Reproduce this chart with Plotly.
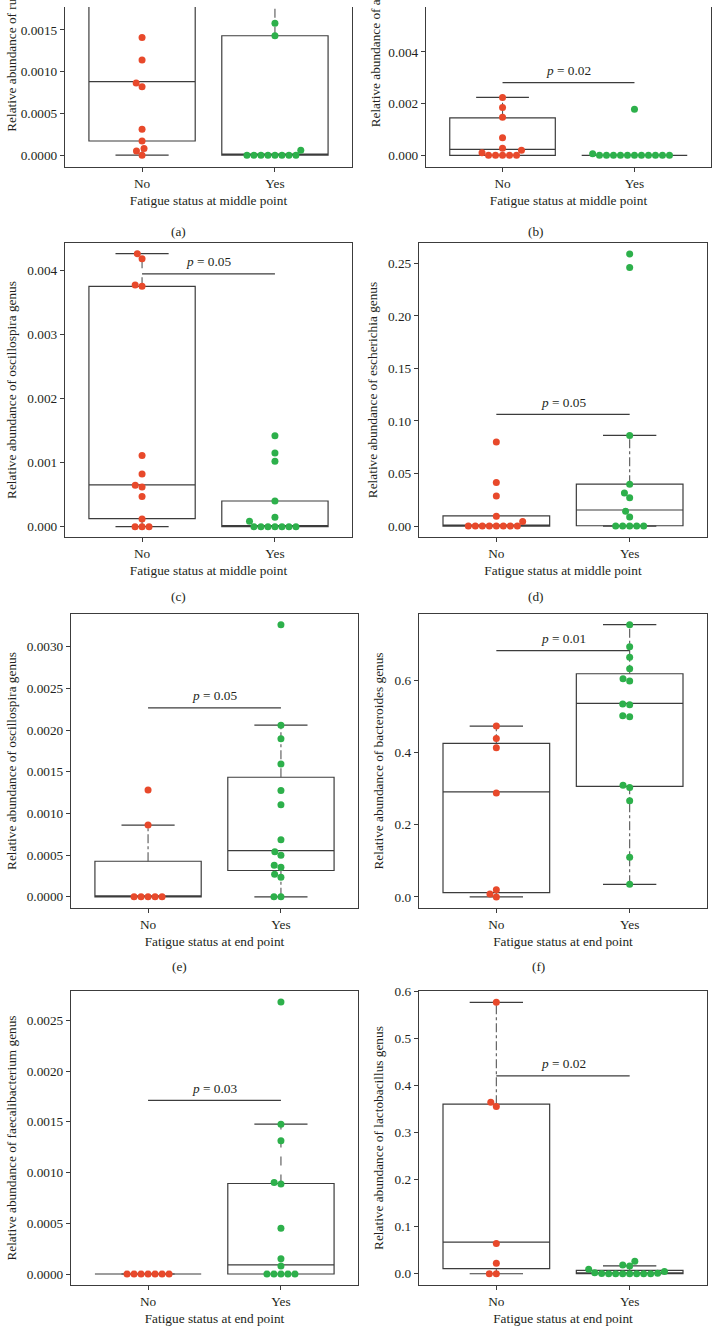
import numpy as np
import plotly.graph_objects as go

W, H = 714, 1338
FONT = "Liberation Serif"
RED = "#E8492B"
GREEN = "#2DB04B"
LINE = "#3C3C3C"
WHISK = "#555555"
TXT = "#231F20"
FS = 13.3

# ------------------------------------------------------------------ data
groups = ["No", "Yes"]
x_mid = "Fatigue status at middle point"
x_end = "Fatigue status at end point"

# box stats: [lower whisker, q1, median, q3, upper whisker]
# (a) ruminococcus, middle point (upper part lies above the cropped figure)
a_no = [0.00141, 0.00114, 0.000865, 0.00082, 0.00031, 0.00017, 0.00008, 0.00005, 0.0,
        0.0021, 0.0026, 0.0032, 0.0045]
a_yes = [0.00158, 0.00143, 0.00006, 0.0, 0.0, 0.0, 0.0, 0.0, 0.0, 0.0, 0.0, 0.0021, 0.0030]
a_no_box = [0.0, 0.00017, 0.00088, 0.0021, 0.0045]
a_yes_box = [0.0, 0.0, 0.0, 0.00143, 0.0030]

# (b) anaerostipes, middle point
b_no = [0.00224, 0.00185, 0.00147, 0.00068, 0.00027, 0.00019, 0.0001, 0.0, 0.0, 0.0, 0.0, 0.0]
b_yes = [0.00178, 0.00006, 0.0, 0.0, 0.0, 0.0, 0.0, 0.0, 0.0, 0.0, 0.0, 0.0, 0.0]
b_no_box = [0.0, 0.0, 0.00023, 0.00145, 0.00224]
b_yes_box = [0.0, 0.0, 0.0, 0.0, 0.0]
b_p = [0.00281, "0.02"]

# (c) oscillospira, middle point
c_no = [0.00426, 0.00418, 0.00377, 0.00375, 0.00111, 0.00082, 0.000645, 0.00062, 0.00047,
        0.00012, 0.0, 0.0, 0.0]
c_yes = [0.00142, 0.00115, 0.00102, 0.00040, 0.000146, 0.000084, 0.0, 0.0, 0.0, 0.0, 0.0, 0.0, 0.0]
c_no_box = [0.0, 0.000125, 0.000653, 0.00375, 0.00426]
c_yes_box = [0.0, 0.0, 0.0, 0.0004, 0.0004]
c_p = [0.003946, "0.05"]

# (d) escherichia, middle point
d_no = [0.080, 0.0415, 0.0285, 0.0093, 0.0043, 0.0, 0.0, 0.0, 0.0, 0.0, 0.0, 0.0, 0.0]
d_yes = [0.259, 0.246, 0.0863, 0.0399, 0.0314, 0.027, 0.014, 0.0086, 0.0, 0.0, 0.0, 0.0, 0.0]
d_no_box = [0.0, 0.0, 0.0, 0.0097, 0.0097]
d_yes_box = [0.0, 0.0003, 0.0153, 0.0399, 0.0863]
d_p = [0.1062, "0.05"]

# (e) oscillospira, end point
e_no = [0.00128, 0.00086, 0.0, 0.0, 0.0, 0.0, 0.0]
e_yes = [0.003264, 0.002058, 0.001895, 0.001593, 0.001275, 0.001104, 0.000686, 0.00054,
         0.000499, 0.00038, 0.000356, 0.000272, 0.000236, 0.0, 0.0]
e_no_box = [0.0, 0.0, 0.0, 0.000427, 0.00086]
e_yes_box = [0.0, 0.000316, 0.000555, 0.001434, 0.002058]
e_p = [0.002266, "0.05"]

# (f) bacteroides, end point
f_no = [0.473, 0.439, 0.413, 0.288, 0.020, 0.008, 0.0]
f_yes = [0.754, 0.693, 0.664, 0.632, 0.604, 0.598, 0.534, 0.532, 0.5015, 0.4987, 0.309,
         0.303, 0.266, 0.110, 0.035]
f_no_box = [0.0, 0.012, 0.291, 0.4254, 0.473]
f_yes_box = [0.035, 0.306, 0.536, 0.618, 0.754]
f_p = [0.682, "0.01"]

# (g) faecalibacterium, end point
g_no = [0.0, 0.0, 0.0, 0.0, 0.0, 0.0, 0.0]
g_yes = [0.00268, 0.001477, 0.001314, 0.000902, 0.000886, 0.000451, 0.00015, 0.00008,
         0.0, 0.0, 0.0, 0.0, 0.0]
g_no_box = [0.0, 0.0, 0.0, 0.0, 0.0]
g_yes_box = [0.0, 0.0, 0.00009, 0.000892, 0.001477]
g_p = [0.001712, "0.03"]

# (h) lactobacillus, end point
h_no = [0.576, 0.364, 0.355, 0.064, 0.022, 0.0, 0.0]
h_yes = [0.0265, 0.0185, 0.0165, 0.0095, 0.0045, 0.002, 0.001, 0.0005, 0.0, 0.0, 0.0,
         0.0, 0.0, 0.0, 0.0]
h_no_box = [0.0, 0.011, 0.067, 0.36, 0.576]
h_yes_box = [0.0, 0.0, 0.002, 0.007, 0.0165]
h_p = [0.42, "0.02"]

genus = ["ruminococcus", "anaerostipes", "oscillospira", "escherichia",
         "oscillospira", "bacteroides", "faecalibacterium", "lactobacillus"]
labels = ["(a)", "(b)", "(c)", "(d)", "(e)", "(f)", "(g)", "(h)"]

# ------------------------------------------------------------------ layout geometry (px)
# plot-area boxes: left, right, top, bottom
geom = [
    (65, 352, 0, 161), (426, 711, 0, 161),
    (65, 352, 237, 533), (419, 707, 237, 533),
    (71, 358, 610, 906), (419, 707, 610, 906),
    (71, 358, 989, 1285), (419, 707, 989, 1285),
]
yranges = [(-0.000143, 0.001774), (-0.00046, 0.00574), (-0.000165, 0.00443),
           (-0.0106, 0.2696), (-0.000137, 0.003394), (-0.0314, 0.784),
           (-0.000111, 0.002791), (-0.0245, 0.6005)]
ydticks = [0.0005, 0.002, 0.001, 0.05, 0.0005, 0.2, 0.0005, 0.1]
yformats = [".4f", ".3f", ".3f", ".2f", ".4f", ".1f", ".4f", ".1f"]
XR = (-0.58, 1.58)
whisk_dash = [("dash", "dash"), ("dashdot", "dashdot"), ("dash", "dash"), ("dashdot", "dashdot"),
              ("dashdot", "dashdot"), ("dashdot", "dashdot"), ("dash", "dash"), ("dashdot", "dashdot")]
label_pos = [(178, 226), (536, 226), (178, 593), (536, 593), (179, 965), (538, 965)]

data_no = [a_no, b_no, c_no, d_no, e_no, f_no, g_no, h_no]
data_yes = [a_yes, b_yes, c_yes, d_yes, e_yes, f_yes, g_yes, h_yes]
box_no = [a_no_box, b_no_box, c_no_box, d_no_box, e_no_box, f_no_box, g_no_box, h_no_box]
box_yes = [a_yes_box, b_yes_box, c_yes_box, d_yes_box, e_yes_box, f_yes_box, g_yes_box, h_yes_box]
pvals = [None, b_p, c_p, d_p, e_p, f_p, g_p, h_p]
xtitles = [x_mid, x_mid, x_mid, x_mid, x_end, x_end, x_end, x_end]

DOT = 7.0


def swarm(vals, px_y, px_x, d=DOT):
    """beeswarm offsets (axis units) for one group"""
    order = sorted(range(len(vals)), key=lambda i: vals[i])
    placed = []
    offs = [0.0] * len(vals)
    for i in order:
        y = vals[i] * px_y
        near = [(xp, yp) for xp, yp in placed if abs(yp - y) < d]
        cands = [0.0]
        for xp, yp in near:
            dx = np.sqrt(max(d * d - (yp - y) ** 2, 0))
            cands += [xp + dx, xp - dx]
        cands.sort(key=lambda c: (abs(c), c))
        xsel = cands[-1]
        for c in cands:
            if all((c - xp) ** 2 + (yp - y) ** 2 >= d * d - 1e-6 for xp, yp in near):
                xsel = c
                break
        placed.append((xsel, y))
        offs[i] = xsel / px_x
    return offs


fig = go.Figure()
annotations = []

for k in range(8):
    n = k + 1
    xa = "x" if n == 1 else f"x{n}"
    ya = "y" if n == 1 else f"y{n}"
    left, right, top, bottom = geom[k]
    ymin, ymax = yranges[k]
    px_y = (bottom - top) / (ymax - ymin)
    px_x = (right - left) / (XR[1] - XR[0])

    # boxes (whiskers drawn separately)
    bn, by = box_no[k], box_yes[k]
    fig.add_trace(go.Box(
        x=[0, 1], q1=[bn[1], by[1]], median=[bn[2], by[2]], q3=[bn[3], by[3]],
        lowerfence=[bn[1], by[1]], upperfence=[bn[3], by[3]],
        width=0.8, whiskerwidth=0, fillcolor="white",
        line=dict(color=LINE, width=1.2), boxpoints=False,
        hoverinfo="skip", showlegend=False, xaxis=xa, yaxis=ya))

    # whiskers + caps
    for g, bx in enumerate([bn, by]):
        lo, q1, med, q3, hi = bx
        fig.add_trace(go.Scatter(
            x=[g, g, None, g, g], y=[q3, hi, None, lo, q1], mode="lines",
            line=dict(color=WHISK, width=1.1, dash=whisk_dash[k][g]),
            hoverinfo="skip", showlegend=False, xaxis=xa, yaxis=ya))
        capx, capy = [], []
        if hi > q3:
            capx += [g - 0.2, g + 0.2, None]
            capy += [hi, hi, None]
        if lo < q1 or (lo == q1 == q3):
            capx += [g - 0.2, g + 0.2, None]
            capy += [lo, lo, None]
        if capx:
            fig.add_trace(go.Scatter(
                x=capx, y=capy, mode="lines", line=dict(color=LINE, width=1.2),
                hoverinfo="skip", showlegend=False, xaxis=xa, yaxis=ya))

    # significance bracket
    if pvals[k] is not None:
        py, ptxt = pvals[k]
        fig.add_trace(go.Scatter(
            x=[0, 1], y=[py, py], mode="lines", line=dict(color=LINE, width=1.2),
            hoverinfo="skip", showlegend=False, xaxis=xa, yaxis=ya))
        annotations.append(dict(
            x=0.5, y=py, xref=xa, yref=ya, text=f"<i>p</i> = {ptxt}", showarrow=False,
            yanchor="middle", yshift=12, font=dict(family=FONT, size=FS, color=TXT)))

    # dots
    for g, (vals, col) in enumerate([(data_no[k], RED), (data_yes[k], GREEN)]):
        offs = swarm(vals, px_y, px_x)
        fig.add_trace(go.Scatter(
            x=[g + o for o in offs], y=vals, mode="markers",
            marker=dict(color=col, size=DOT, line=dict(width=0)),
            hoverinfo="skip", showlegend=False, xaxis=xa, yaxis=ya))

    xdom = [left / W, right / W]
    ydom = [1 - bottom / H, 1 - top / H]
    axfont = dict(family=FONT, size=FS, color=TXT)
    xaxis = dict(domain=xdom, anchor=ya, range=list(XR), type="linear",
                 tickvals=[0, 1], ticktext=groups, showgrid=False, zeroline=False,
                 showline=True, linecolor=LINE, linewidth=1.2, mirror=(k >= 2),
                 ticks="outside", ticklen=4, tickcolor=LINE, tickfont=axfont,
                 title=dict(text=xtitles[k], font=axfont, standoff=5))
    yaxis = dict(domain=ydom, anchor=xa, range=[ymin, ymax], showgrid=False,
                 zeroline=False, showline=True, linecolor=LINE, linewidth=1.2, mirror=True,
                 ticks="outside", ticklen=4, tickcolor=LINE, tickfont=axfont,
                 tick0=0, dtick=ydticks[k], tickformat=yformats[k])
    ytitle = f"Relative abundance of {genus[k]} genus"
    if k >= 2:
        yaxis["title"] = dict(text=ytitle, font=dict(family=FONT, size=FS, color=TXT), standoff=7)
    else:
        # cropped top row: title begins low and runs off the top edge
        tx = 12 if k == 0 else 375
        tb = 128 if k == 0 else 123
        annotations.append(dict(
            x=tx / W, y=1 - tb / H, xref="paper", yref="paper", text=ytitle,
            textangle=-90, showarrow=False, xanchor="center", yanchor="bottom",
            font=dict(family=FONT, size=FS, color=TXT)))
    fig.layout[f"xaxis{'' if n == 1 else n}"] = xaxis
    fig.layout[f"yaxis{'' if n == 1 else n}"] = yaxis

for k, (lx, ly) in enumerate(label_pos):
    annotations.append(dict(x=lx / W, y=1 - ly / H, xref="paper", yref="paper",
                            text=labels[k], showarrow=False, xanchor="center",
                            yanchor="middle", font=dict(family=FONT, size=FS, color=TXT)))

fig.update_layout(width=W, height=H, margin=dict(l=0, r=0, t=0, b=0),
                  paper_bgcolor="white", plot_bgcolor="white",
                  annotations=annotations, showlegend=False)
fig.write_html("out.html", config={"displayModeBar": False},
               post_script="document.body.style.margin='0px';")
